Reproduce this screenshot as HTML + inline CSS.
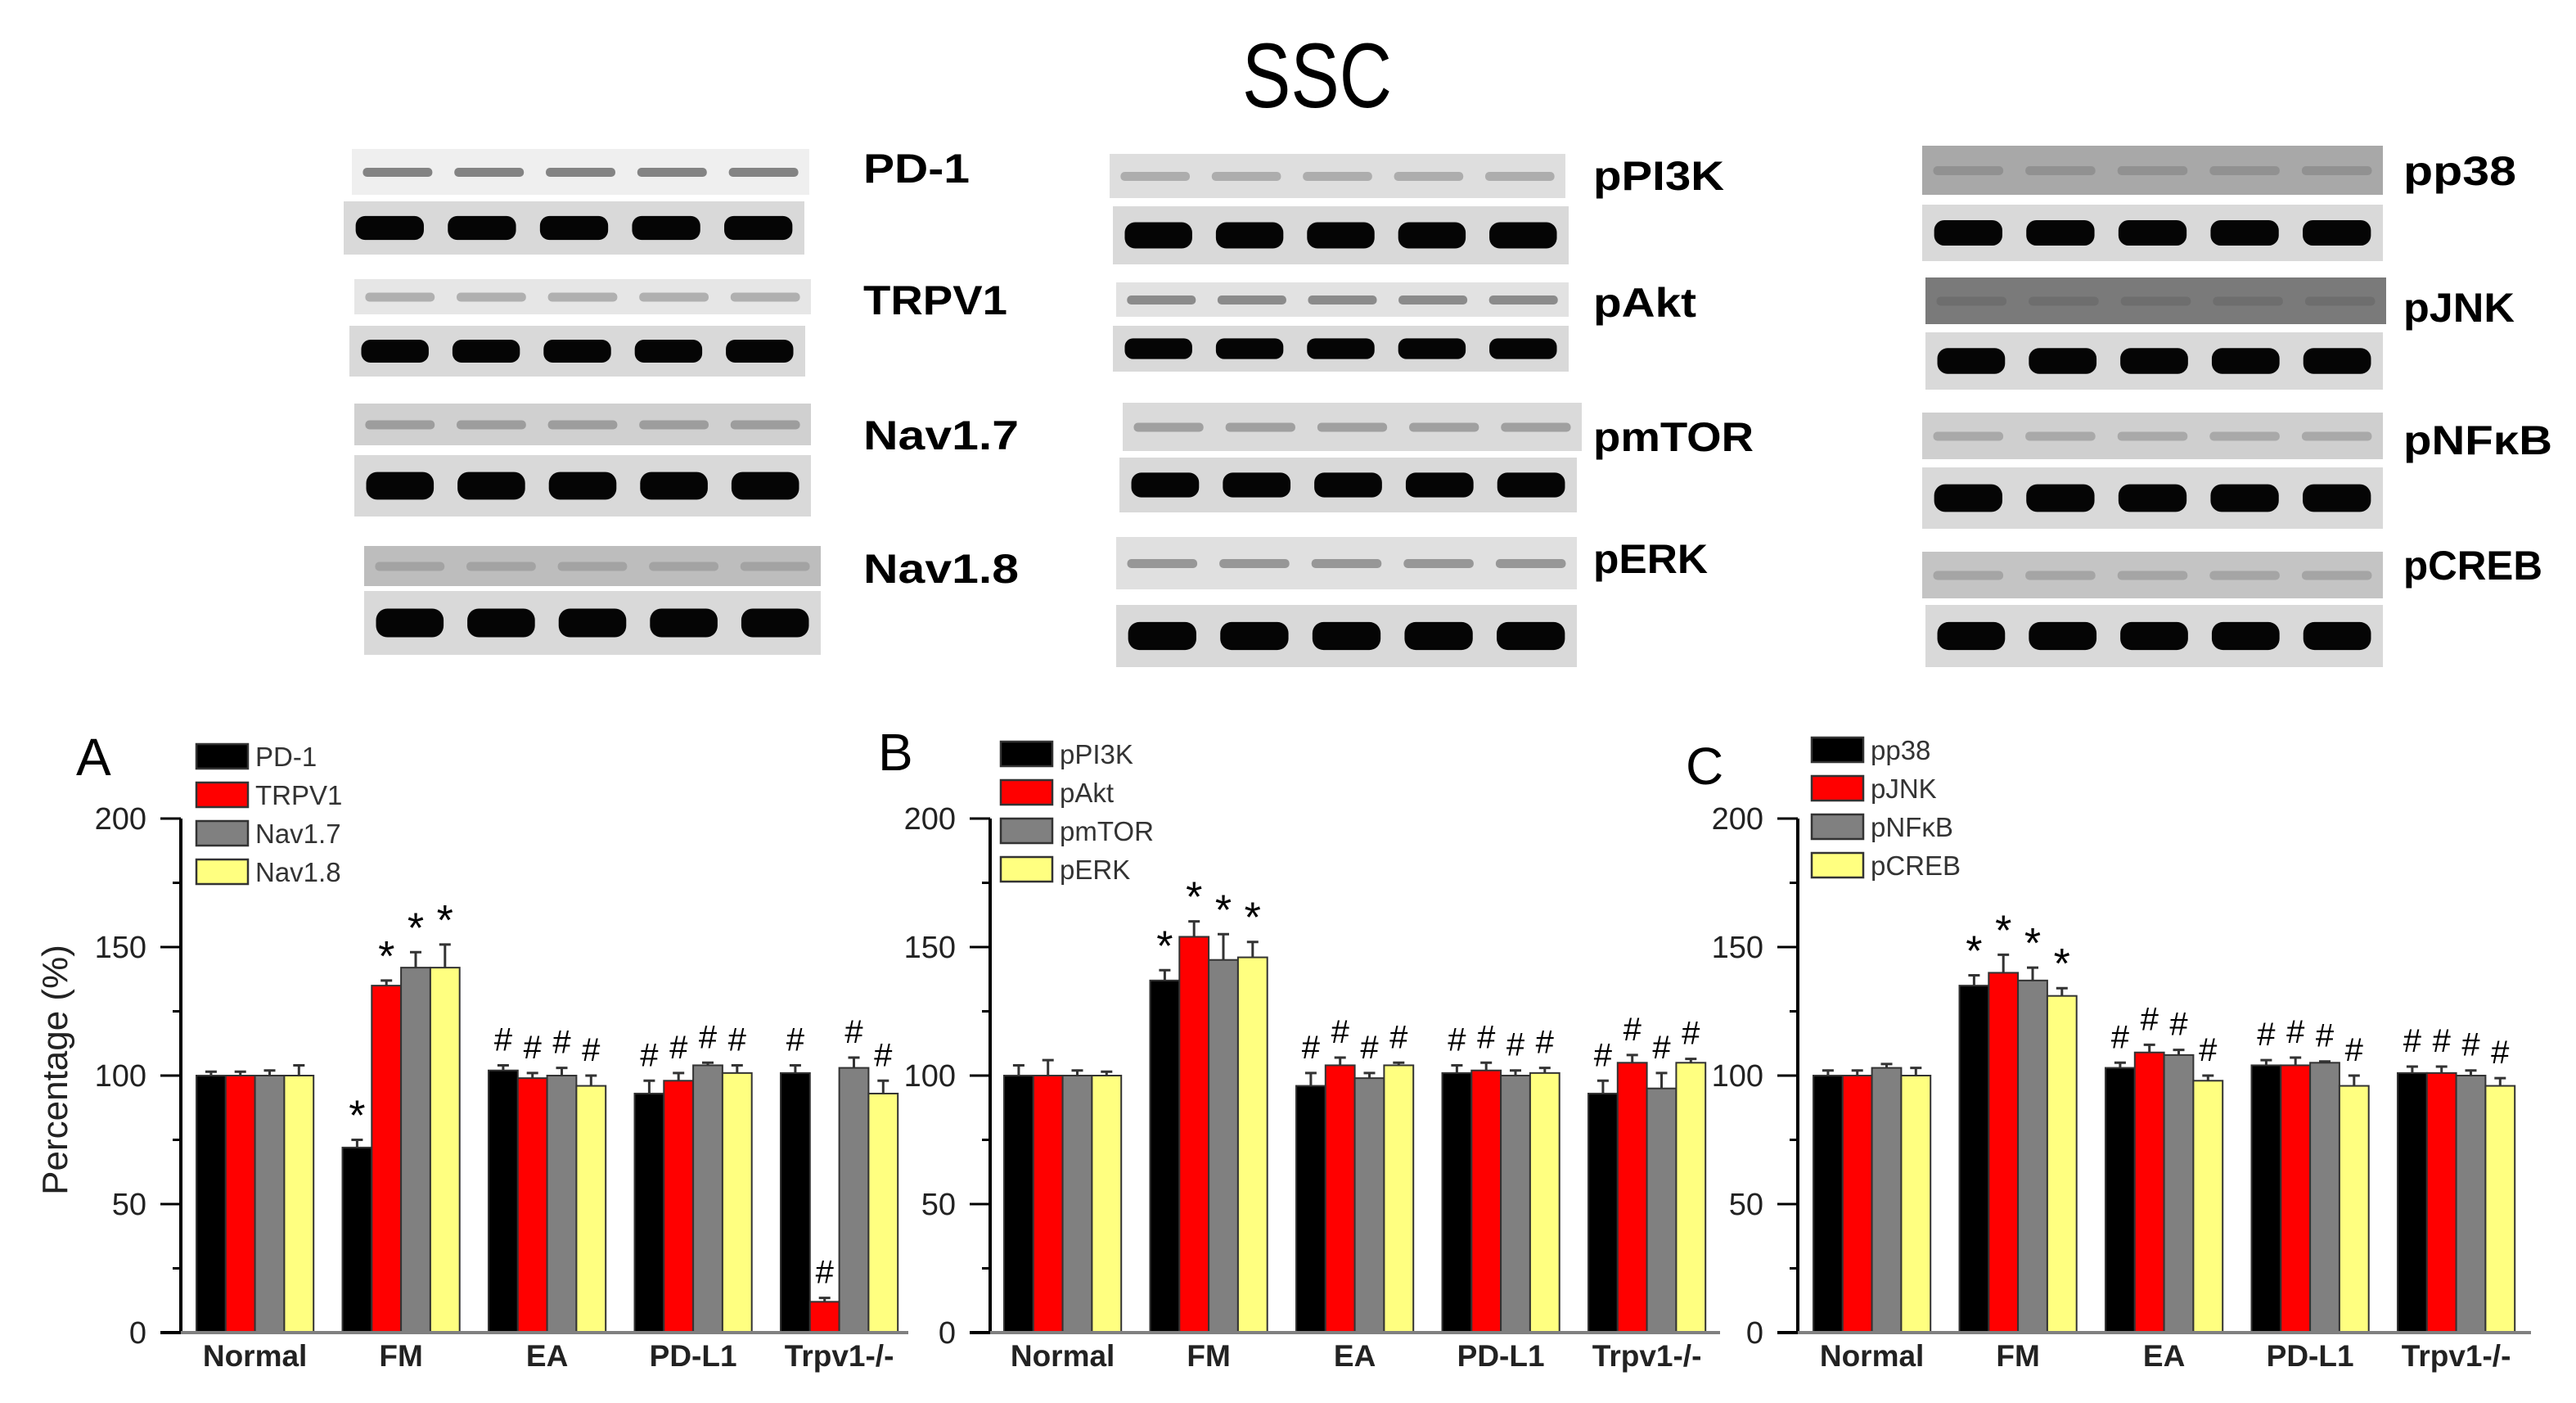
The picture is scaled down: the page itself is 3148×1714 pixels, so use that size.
<!DOCTYPE html>
<html><head><meta charset="utf-8"><style>
html,body{margin:0;padding:0;background:#fff;}
svg{display:block;font-family:"Liberation Sans",Arial,sans-serif;}
</style></head><body>
<svg id="fig" width="3148" height="1714" viewBox="0 0 3148 1714">
<text x="1518" y="131" font-size="112" textLength="183" lengthAdjust="spacingAndGlyphs">SSC</text>
<g id="blots"></g>
<g id="charts"></g>
</svg>
<script>
const categories = ["Normal","FM","EA","PD-L1","Trpv1-/-"];
const yTicks = [0,50,100,150,200];
const seriesNamesA = ["PD-1","TRPV1","Nav1.7","Nav1.8"];
const seriesNamesB = ["pPI3K","pAkt","pmTOR","pERK"];
const seriesNamesC = ["pp38","pJNK","pNFκB","pCREB"];
const a1 = [100,72,102,93,101], a2 = [100,135,99,98,12], a3 = [100,142,100,104,103], a4 = [100,142,96,101,93];
const ae1 = [1.5,3,2,5,3], ae2 = [1.5,2,2,3,1.5], ae3 = [2,6,3,1,4], ae4 = [4,9,4,3,5];
const b1 = [100,137,96,101,93], b2 = [100,154,104,102,105], b3 = [100,145,99,100,95], b4 = [100,146,104,101,105];
const be1 = [4,4,5,3,5], be2 = [6,6,3,3,3], be3 = [2,10,2,2,6], be4 = [1.5,6,1,2,1.5];
const c1 = [100,135,103,104,101], c2 = [100,140,109,104,101], c3 = [103,137,108,105,100], c4 = [100,131,98,96,96];
const ce1 = [2,4,2,2,2.5], ce2 = [2,7,3,3,2.5], ce3 = [1.5,5,2,0.5,2], ce4 = [3,3,2,4,3];
const marks = ["","*","#","#","#"];

const NS="http://www.w3.org/2000/svg";
function mk(tag,attrs,parent){const e=document.createElementNS(NS,tag);for(const k in attrs)e.setAttribute(k,attrs[k]);parent.appendChild(e);return e;}
const colors=["#000000","#ff0000","#808080","#ffff80"];
const Y0=1628,Y200=1000;
function yScale(v){return Y0-(v/200)*(Y0-Y200);}

function chart(letter,axisX,firstX,lineEnd,legX,legY,names,vals,errs,lx,ly){
  const g=mk("g",{},document.getElementById("charts"));
  
  
  const pl=mk("text",{x:lx,y:ly,"font-size":64},g);pl.textContent=letter;
  
  
  const bw=35.8,pitch=178.5;
  vals.forEach((ser,si)=>{
    ser.forEach((v,ci)=>{
      const x=firstX+ci*pitch+si*bw;
      const r=mk("rect",{x:x,y:yScale(v),width:bw,height:Y0-yScale(v),fill:colors[si],stroke:"#333","stroke-width":2},g);
      
      
      const top=yScale(v+errs[si][ci]);const cx=x+bw/2;
      const eb=mk("path",{d:`M${cx},${yScale(v)}V${top}M${cx-7},${top}H${cx+7}`,stroke:"#333","stroke-width":3,fill:"none"},g);
      
      
      const m=marks[ci];
      if(m){const t=mk("text",{x:cx,y:top-(m=="*"?12:18),"font-size":m=="*"?52:40,"text-anchor":"middle"},g);t.textContent=m;
        
        }
    });
  });
  const ax=mk("path",{d:`M${axisX},${Y200}V${Y0}`,stroke:"#000","stroke-width":4,fill:"none"},g);
  
  
  const xl=mk("path",{d:`M${axisX-25},${Y0}H${lineEnd}`,stroke:"#808080","stroke-width":4,fill:"none"},g);
  
  
  mk("path",{d:`M${axisX-25},${Y0}H${axisX}`,stroke:"#000","stroke-width":4},g);
  for(let v=0;v<=200;v+=25){
    const major=v%50==0;
    mk("path",{d:`M${axisX-(major?25:10)},${yScale(v)}H${axisX}`,stroke:"#000","stroke-width":3},g);
  }
  yTicks.forEach(v=>{const t=mk("text",{x:axisX-42,y:yScale(v)+13,"font-size":38,"text-anchor":"end",fill:"#222"},g);t.textContent=v;
    
    });
  categories.forEach((c,ci)=>{const t=mk("text",{x:firstX+ci*pitch+2*bw,y:1669,"font-size":37,"font-weight":"bold","text-anchor":"middle",fill:"#222"},g);t.textContent=c;
    
    });
  names.forEach((n,si)=>{
    const y=legY+si*47;
    const r=mk("rect",{x:legX,y:y,width:63,height:30,fill:colors[si],stroke:"#333","stroke-width":2.5},g);
    
    
    const t=mk("text",{x:legX+72,y:y+27,"font-size":33,fill:"#333"},g);t.textContent=n;
    
    
  });
}
chart("A",221,240,1110,240,909,seriesNamesA,[a1,a2,a3,a4],[ae1,ae2,ae3,ae4],93,947);
chart("B",1210,1227,2102,1223,906,seriesNamesB,[b1,b2,b3,b4],[be1,be2,be3,be4],1073,941);
chart("C",2197,2216,3093,2214,901,seriesNamesC,[c1,c2,c3,c4],[ce1,ce2,ce3,ce4],2060,958);
const yt=mk("text",{x:0,y:0,"font-size":44,"text-anchor":"middle",fill:"#222",transform:"translate(82,1307) rotate(-90)"},document.getElementById("charts"));
yt.textContent="Percentage (%)";



const blots=[
 ["PD-1",1055,223,430,989,182,238,420,983,246,311,"#efefef","#555",130],
 ["TRPV1",1055,384,433,991,341,384,427,984,398,460,"#e6e6e6","#999",176],
 ["Nav1.7",1055,549,433,991,493,544,433,991,556,631,"#d0d0d0","#888",190],
 ["Nav1.8",1055,712,445,1003,667,716,445,1003,722,800,"#bdbdbd","#999",190],
 ["pPI3K",1947,232,1356,1913,188,242,1360,1917,252,323,"#dedede","#999",160],
 ["pAkt",1947,387,1364,1917,345,387,1360,1917,398,454,"#e2e2e2","#666",126],
 ["pmTOR",1947,551,1372,1933,492,551,1368,1927,559,626,"#dadada","#888",196],
 ["pERK",1947,700,1364,1927,656,720,1364,1927,739,815,"#e0e0e0","#777",140],
 ["pp38",2937,226,2349,2912,178,238,2349,2912,250,319,"#a8a8a8","#888",138],
 ["pJNK",2937,393,2353,2916,339,396,2353,2912,406,476,"#7a7a7a","#6a6a6a",136],
 ["pNFκB",2937,555,2349,2912,504,561,2349,2912,571,646,"#cfcfcf","#999",182],
 ["pCREB",2937,708,2349,2912,674,731,2353,2912,739,815,"#c4c4c4","#999",170]
];
const bg=document.getElementById("blots");
blots.forEach(b=>{
  const g=mk("g",{},bg);
  
  
  mk("rect",{x:b[3],y:b[5],width:b[4]-b[3],height:b[6]-b[5],fill:b[11]},g);
  mk("rect",{x:b[7],y:b[9],width:b[8]-b[7],height:b[10]-b[9],fill:"#d9d9d9"},g);
  for(let i=0;i<5;i++){
    const lw=(b[4]-b[3])/5, cx=b[3]+lw*(i+0.5), cy=(b[5]+b[6])/2;
    mk("rect",{x:cx-lw*0.38,y:cy-5,width:lw*0.76,height:11,rx:5,fill:b[12],opacity:0.7},g);
    const lw2=(b[8]-b[7])/5, cx2=b[7]+lw2*(i+0.5), cy2=(b[9]+b[10])/2, h=(b[10]-b[9])*0.45;
    mk("rect",{x:cx2-lw2*0.37,y:cy2-h/2,width:lw2*0.74,height:h,rx:h/2.5,fill:"#050505"},g);
  }
  const t=mk("text",{x:b[1],y:b[2],"font-size":50,"font-weight":"bold",textLength:b[13],lengthAdjust:"spacingAndGlyphs"},g);t.textContent=b[0];
  
  
});
</script>
</body></html>
